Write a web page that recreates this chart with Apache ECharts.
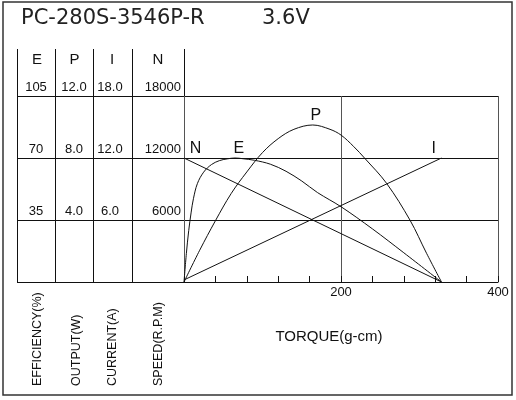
<!DOCTYPE html>
<html>
<head>
<meta charset="utf-8">
<script src="https://cdn.jsdelivr.net/npm/echarts@6/dist/echarts.min.js"></script>
<style>html,body{margin:0;padding:0;background:#fff}#c{width:516px;height:400px}</style>
</head>
<body>
<div id="c"></div>
<script>
// ---- data ----
const torqueE = [0, 3, 6, 9, 12, 17, 25, 35, 45, 55, 65, 75, 90, 110, 130, 150, 170, 200, 240, 280, 328];
const efficiency = [0, 16, 29, 39, 47, 55.5, 62, 66.3, 68.5, 69.5, 70, 69.6, 68.7, 66.5, 62.5, 57, 50.5, 42.5, 30, 16.5, 0];
const torqueP = [0, 20, 40, 60, 80, 100, 120, 140, 164, 186, 200, 216, 231, 258, 288, 309, 328];
const output = [0, 2.05, 3.95, 5.7, 7.1, 8.35, 9.25, 9.85, 10.13, 9.85, 9.48, 8.75, 7.94, 6.37, 3.98, 1.85, 0];
const torqueLine = [0, 328];
const current = [0.2, 12.0];
const speed = [12000, 0];
const effTicks = [0, 35, 70, 105];
const outTicks = [0, 4, 8, 12];
const curTicks = [0, 6, 12, 18];
const spdTicks = [0, 6000, 12000, 18000];
const torqueTicks = [0, 40, 400];
const torqueLabels = [200, 400];
const columnHeads = ['E', 'P', 'I', 'N'];
const axisTitles = ['EFFICIENCY(%)', 'OUTPUT(W)', 'CURRENT(A)', 'SPEED(R.P.M)'];
const curveLabels = [
  {name: 'N', coord: [0, 12000]},
  {name: 'E', coord: [70, 70]},
  {name: 'P', coord: [168, 10.13]},
  {name: 'I', coord: [318, 12]}
];

const FONT = 'Liberation Sans';
const INK = '#111';

function labelAxis(ticks, offset, fmt, align, margin) {
  return {
    gridIndex: 1, type: 'value', position: 'left', offset: offset,
    min: ticks[0], max: ticks[ticks.length - 1], interval: ticks[1] - ticks[0],
    axisLine: {show: false}, axisTick: {show: false}, splitLine: {show: false},
    axisLabel: {
      show: true, align: align, margin: margin, verticalAlign: 'bottom',
      fontFamily: FONT, fontSize: 13, color: INK, padding: [0, 0, 2, 0],
      formatter: v => (v === 0 ? '' : fmt(v))
    }
  };
}

function curveMark(idx) {
  const c = curveLabels[idx];
  const offs = {N: [11.5, -9], E: [0, -9], P: [0, -9], I: [0, -9]};
  return {
    symbol: 'circle', symbolSize: 1, silent: true,
    itemStyle: {color: 'rgba(0,0,0,0)'},
    label: {show: true, position: 'inside', formatter: c.name, offset: offs[c.name],
      fontFamily: FONT, fontSize: 16, color: INK},
    data: [{coord: c.coord}]
  };
}

const lineStyle = {color: INK, width: 1};
const headX = [37, 74.5, 112, 158];
const titleX = [37.5, 76.5, 113, 158.5];

const option = {
  animation: false,
  textStyle: {fontFamily: FONT, color: INK},
  title: [
    {text: 'PC-280S-3546P-R', left: 21, top: 8, padding: 0,
      textStyle: {fontFamily: 'DejaVu Sans', fontSize: 21, fontWeight: 'normal', color: '#222'}},
    {text: '3.6V', left: 262, top: 8, padding: 0,
      textStyle: {fontFamily: 'DejaVu Sans', fontSize: 21, fontWeight: 'normal', color: '#222'}}
  ],
  grid: [
    {left: 17, right: 18, top: 96, bottom: 118},
    {left: 184, right: 18, top: 96, bottom: 118}
  ],
  xAxis: [
    {gridIndex: 0, type: 'value', show: false, min: 0, max: 1},
    {gridIndex: 1, type: 'value', position: 'bottom',
      min: torqueTicks[0], max: torqueTicks[2], interval: torqueTicks[1],
      axisLine: {show: true, onZero: false, lineStyle: {color: INK, width: 1}},
      axisTick: {show: true, inside: true, length: 6, lineStyle: {color: INK}},
      axisLabel: {fontFamily: FONT, fontSize: 13, color: INK, margin: 4,
        formatter: v => (torqueLabels.indexOf(v) >= 0 ? String(v) : '')},
      splitLine: {show: false},
      name: 'TORQUE(g-cm)', nameLocation: 'middle', nameGap: 47,
      nameTextStyle: {fontFamily: FONT, fontSize: 15, color: INK, padding: [0, 24, 0, 0]}},
    {gridIndex: 1, type: 'value', position: 'bottom',
      min: torqueTicks[0], max: torqueTicks[2], interval: torqueLabels[0],
      axisLine: {show: false}, axisTick: {show: false}, axisLabel: {show: false},
      splitLine: {show: true, lineStyle: {color: '#555', width: 1}}}
  ],
  yAxis: [
    {gridIndex: 0, type: 'value', min: effTicks[0], max: effTicks[3], interval: effTicks[1],
      axisLine: {show: false}, axisTick: {show: false}, axisLabel: {show: false},
      splitLine: {show: true, lineStyle: {color: INK, width: 1}}},
    labelAxis(effTicks, 148, v => String(v), 'center', 0),
    labelAxis(outTicks, 110, v => v.toFixed(1), 'center', 0),
    labelAxis(curTicks, 72, v => v.toFixed(1), 'center', 2),
    labelAxis(spdTicks, 26, v => String(v), 'right', -23)
  ],
  series: [
    {type: 'line', name: 'E', xAxisIndex: 1, yAxisIndex: 1, silent: true,
      data: torqueE.map((t, i) => [t, efficiency[i]]),
      smooth: 0.35, showSymbol: false, lineStyle: lineStyle,
      markPoint: curveMark(1)},
    {type: 'line', name: 'P', xAxisIndex: 1, yAxisIndex: 2, silent: true,
      data: torqueP.map((t, i) => [t, output[i]]),
      smooth: 0.35, showSymbol: false, lineStyle: lineStyle,
      markPoint: curveMark(2)},
    {type: 'line', name: 'I', xAxisIndex: 1, yAxisIndex: 3, silent: true,
      data: torqueLine.map((t, i) => [t, current[i]]),
      showSymbol: false, lineStyle: lineStyle, markPoint: curveMark(3)},
    {type: 'line', name: 'N', xAxisIndex: 1, yAxisIndex: 4, silent: true,
      data: torqueLine.map((t, i) => [t, speed[i]]),
      showSymbol: false, lineStyle: lineStyle, markPoint: curveMark(0)}
  ],
  graphic: [
    {type: 'rect', silent: true, shape: {x: 3, y: 2, width: 509, height: 393},
      style: {fill: 'none', stroke: '#333', lineWidth: 1.5}},
    ...[17.5, 55.5, 93.5, 132.5, 184.5].map(x => ({
      type: 'line', silent: true, shape: {x1: x, y1: 49, x2: x, y2: 282},
      style: {stroke: INK, lineWidth: 1}})),
    ...columnHeads.map((h, i) => ({
      type: 'text', silent: true, x: headX[i], y: 59.5,
      style: {text: h, fontFamily: FONT, fontSize: 15, fill: INK, align: 'center', verticalAlign: 'middle'}})),
    ...axisTitles.map((t, i) => ({
      type: 'text', silent: true, x: titleX[i], y: 386, rotation: Math.PI / 2,
      style: {text: t, fontFamily: FONT, fontSize: 12.5, fill: INK, align: 'left', verticalAlign: 'middle'}}))
  ]
};

const chart = echarts.init(document.getElementById('c'), null, {renderer: 'canvas'});
chart.setOption(option);
</script>
</body>
</html>
